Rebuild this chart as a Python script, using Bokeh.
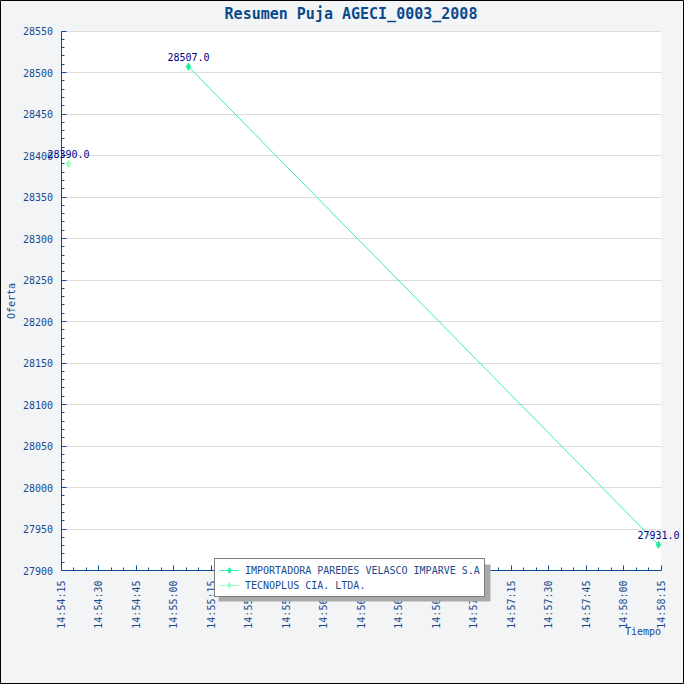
import math
import pandas as pd
from bokeh.plotting import figure
from bokeh.models import (Range1d, FixedTicker, SingleIntervalTicker, Grid,
                          DatetimeTickFormatter, Label, Legend, LegendItem,
                          BoxAnnotation)
from bokeh.embed import file_html
from bokeh.resources import INLINE

# ---------------- data ----------------
title_text = "Resumen Puja AGECI_0003_2008"
auction_date = "2008-01-01"
x_axis_title = "Tiempo"
y_axis_title = "Oferta"
x_tick_labels = ["14:54:15", "14:54:30", "14:54:45", "14:55:00", "14:55:15",
                 "14:55:30", "14:55:45", "14:56:00", "14:56:15", "14:56:30",
                 "14:56:45", "14:57:00", "14:57:15", "14:57:30", "14:57:45",
                 "14:58:00", "14:58:15"]
y_min, y_max, y_step = 27900, 28550, 50
series_names = ["IMPORTADORA PAREDES VELASCO IMPARVE S.A", "TECNOPLUS CIA. LTDA."]
s1_times = ["14:55:06", "14:58:14"]
s1_values = [28507.0, 27931.0]
s2_times = ["14:54:18"]
s2_values = [28390.0]

# ---------------- layout / styles ----------------
FIG_W, FIG_H = 684, 684
PLOT_L, PLOT_R, PLOT_T, PLOT_B = 60.5, 660.5, 30.5, 570.0   # white plot area (px)
FONT = "DejaVu Sans Mono"
AXIS_COLOR = "#0b4a94"
TEXT_COLOR = "#1a4a8c"
TITLE_COLOR = "#0a4a8c"
LABEL_COLOR = "#000080"
S1_LINE = "#33eebb"
S1_MARK = "#22ee99"
S2_LINE = "#99ffcc"
S2_MARK = "#99ffbb"
BG = "#f3f4f6"


def to_dt(t):
    return pd.Timestamp(auction_date + " " + t)


def to_ms(t):
    return to_dt(t).value / 1e6


ms0 = to_ms(x_tick_labels[0])
ms1 = to_ms(x_tick_labels[-1])
kx = (PLOT_R - PLOT_L) / (ms1 - ms0)          # px per ms
ky = (PLOT_B - PLOT_T) / (y_max - y_min)      # px per unit
x_lo = ms0 - PLOT_L / kx
x_hi = ms1 + (FIG_W - PLOT_R) / kx
y_hi = y_max + PLOT_T / ky
y_lo = y_min - (FIG_H - PLOT_B) / ky


def px_x(px):
    return x_lo + px / kx


def px_y(py):
    return y_hi - py / ky


x1 = [to_dt(t) for t in s1_times]
x2 = [to_dt(t) for t in s2_times]

p = figure(width=FIG_W, height=FIG_H, x_axis_type="datetime",
           x_range=Range1d(x_lo, x_hi), y_range=Range1d(y_lo, y_hi),
           output_backend="svg", toolbar_location=None,
           min_border_left=0, min_border_right=0,
           min_border_top=0, min_border_bottom=0)

p.background_fill_color = BG
p.border_fill_color = BG
p.outline_line_color = "black"
p.outline_line_width = 1

# white plot area
p.add_layout(BoxAnnotation(left=ms0, right=ms1, bottom=y_min, top=y_max,
                           fill_color="white", fill_alpha=1, line_color=None,
                           level="image"))

# title
p.add_layout(Label(x=px_x(350.5), y=px_y(13), text=title_text,
                   text_align="center", text_baseline="alphabetic",
                   text_font=FONT, text_font_size="15px",
                   text_font_style="bold", text_color=TITLE_COLOR))

# axes
major_ms = [to_ms(t) for t in x_tick_labels]
minor_ms = []
for a, b in zip(major_ms[:-1], major_ms[1:]):
    step = (b - a) / 3
    minor_ms += [a + step, a + 2 * step]
p.xaxis.ticker = FixedTicker(ticks=major_ms, minor_ticks=minor_ms)
fmt = "%H:%M:%S"
p.xaxis.formatter = DatetimeTickFormatter(
    milliseconds=fmt, seconds=fmt, minsec=fmt, minutes=fmt, hourmin=fmt,
    hours=fmt, days=fmt, months=fmt, years=fmt, context=None)
p.xaxis.major_label_orientation = math.pi / 2
p.yaxis.ticker = SingleIntervalTicker(interval=y_step, num_minor_ticks=5)

p.xaxis.fixed_location = y_min
p.yaxis.fixed_location = ms0
p.xaxis.bounds = (ms0, ms1)
p.yaxis.bounds = (y_min, y_max)

for ax in (p.xaxis[0], p.yaxis[0]):
    ax.axis_line_color = AXIS_COLOR
    ax.major_tick_line_color = AXIS_COLOR
    ax.minor_tick_line_color = AXIS_COLOR
    ax.major_tick_in = 5
    ax.major_tick_out = 0
    ax.minor_tick_in = 3
    ax.minor_tick_out = 0
    ax.major_label_text_font = FONT
    ax.major_label_text_font_size = "10px"
    ax.major_label_text_color = TEXT_COLOR
p.yaxis.major_label_standoff = 8
p.xaxis.major_label_standoff = 10

p.yaxis.axis_label = y_axis_title
p.yaxis.axis_label_text_font = FONT
p.yaxis.axis_label_text_font_size = "10px"
p.yaxis.axis_label_text_font_style = "normal"
p.yaxis.axis_label_text_color = TEXT_COLOR
p.yaxis.axis_label_standoff = 3

p.xgrid.visible = False
p.ygrid.grid_line_color = "#dddddd"
p.ygrid.bounds = (y_min, y_max)
if "cross_bounds" in Grid.properties():
    p.ygrid.cross_bounds = (ms0, ms1)

# series
l1 = p.line(x1, s1_values, line_color=S1_LINE, line_width=1)
m1 = p.scatter(x1, s1_values, marker="diamond", size=7,
               fill_color=S1_MARK, line_color=S1_MARK)
l2 = p.line(x2, s2_values, line_color=S2_LINE, line_width=1)
m2 = p.scatter(x2, s2_values, marker="diamond", size=7,
               fill_color=S2_MARK, line_color=S2_MARK)

# value labels
for xs, vs in ((s1_times, s1_values), (s2_times, s2_values)):
    for t, v in zip(xs, vs):
        p.add_layout(Label(x=to_ms(t), y=v, text=f"{v:.1f}",
                           text_align="center", text_baseline="alphabetic",
                           y_offset=10, text_font=FONT, text_font_size="10px",
                           text_color=LABEL_COLOR))

# x axis title at right end, below the tick labels
p.add_layout(Label(x=ms1, y=y_min, text=x_axis_title,
                   text_align="right", text_baseline="alphabetic",
                   y_offset=-61, text_font=FONT, text_font_size="10px",
                   text_color=TEXT_COLOR))

# legend shadow + legend
LEG_L, LEG_T, LEG_R, LEG_B = 214, 560, 486, 597
p.add_layout(BoxAnnotation(left=px_x(LEG_L + 4), right=px_x(LEG_R + 4),
                           top=px_y(LEG_T + 4), bottom=px_y(LEG_B + 4),
                           fill_color="#aaaaaa", fill_alpha=1, line_color=None))

legend = Legend(items=[LegendItem(label=series_names[0], renderers=[l1, m1]),
                       LegendItem(label=series_names[1], renderers=[l2, m2])],
                location=(LEG_L, FIG_H - LEG_B))
legend.label_text_font = FONT
legend.label_text_font_size = "10px"
legend.label_text_color = TEXT_COLOR
legend.glyph_width = 20
legend.glyph_height = 14
legend.label_height = 14
legend.label_standoff = 6
legend.spacing = 1
legend.padding = 4
legend.margin = 0
legend.border_line_color = "black"
legend.border_line_width = 1
legend.background_fill_color = "white"
legend.background_fill_alpha = 1
p.add_layout(legend)

open("out.html", "w").write(file_html(p, INLINE))
